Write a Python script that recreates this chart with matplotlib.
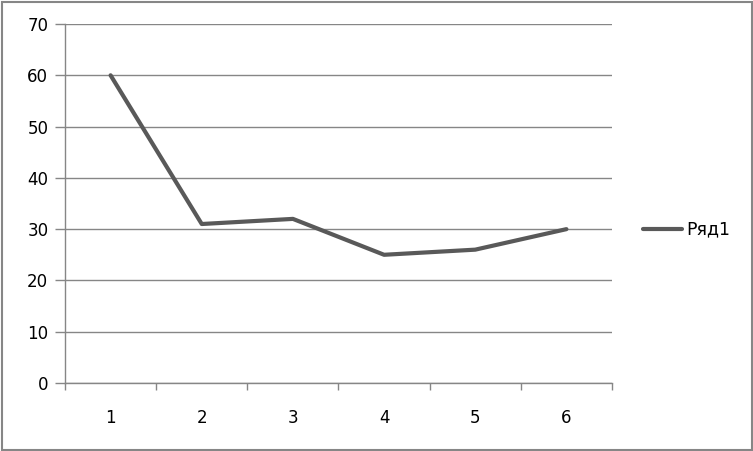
import matplotlib
matplotlib.use("Agg")
import matplotlib.pyplot as plt
from matplotlib.lines import Line2D
from matplotlib.patches import Rectangle

categories = ["1", "2", "3", "4", "5", "6"]
values = [60, 31, 32, 25, 26, 30]
series_name = "Ряд1"
y_ticks = [0, 10, 20, 30, 40, 50, 60, 70]

plt.rcParams['font.family'] = ['DejaVu Sans']

fig = plt.figure(figsize=(7.53, 4.51), dpi=100)
W, H = 753, 451
ax = fig.add_axes([65 / W, 1 - 383 / H, (612 - 65) / W, (383 - 24) / H])

x = list(range(len(categories)))
ax.plot(x, values, color="#595959", linewidth=3.0, solid_capstyle="round", zorder=3)

ax.set_xlim(-0.5, len(categories) - 0.5)
ax.set_ylim(0, 70)
ax.set_yticks(y_ticks)
ax.set_yticklabels([str(v) for v in y_ticks], fontsize=12, color="#000000")
ax.set_xticks(x)
ax.set_xticklabels(categories, fontsize=12, color="#000000")
ax.tick_params(axis="x", length=0, pad=19)
ax.set_xticks([i - 0.5 for i in range(len(categories) + 1)], minor=True)
ax.tick_params(axis="x", which="minor", length=5, width=1, color="#868686", direction="out")
ax.tick_params(axis="y", length=7, width=1, color="#868686", pad=5)

ax.grid(axis="y", color="#868686", linewidth=1)
ax.set_axisbelow(True)
for s in ["top", "right"]:
    ax.spines[s].set_visible(False)
for s in ["left", "bottom"]:
    ax.spines[s].set_color("#868686")
    ax.spines[s].set_linewidth(1)

# legend
fig.add_artist(Line2D([643 / W, 682 / W], [1 - 229 / H, 1 - 229 / H],
                      color="#595959", linewidth=3.0, solid_capstyle="round"))
fig.text(686 / W, 1 - 229 / H, series_name, fontsize=12.5, va="center", ha="left")

# outer border
fig.add_artist(Rectangle((1.5 / W, 1.5 / H), (W - 3) / W, (H - 3) / H,
                         transform=fig.transFigure, fill=False,
                         edgecolor="#868686", linewidth=1.5))

fig.savefig("out.png", dpi=100)
